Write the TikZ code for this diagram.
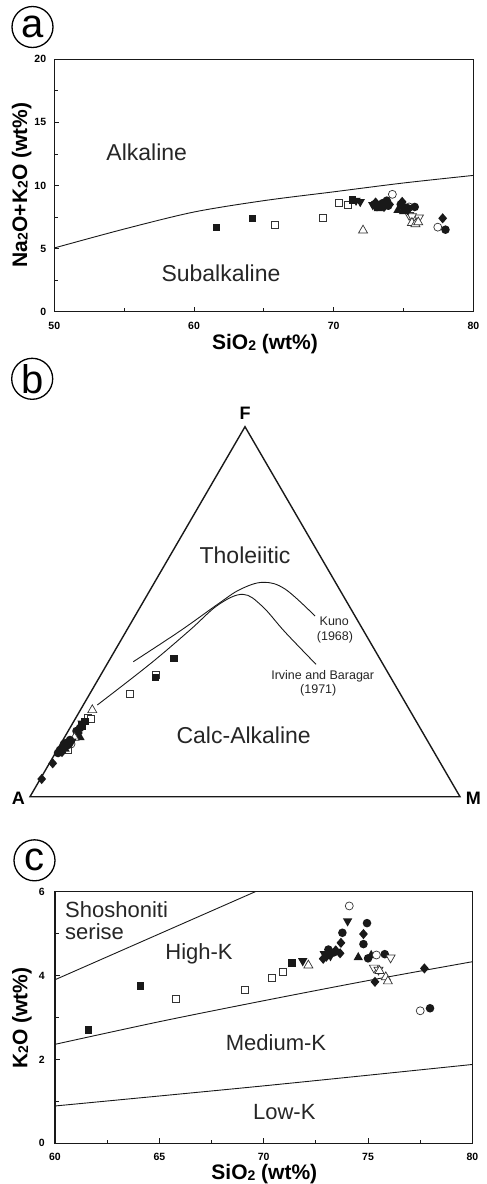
\documentclass[tikz,border=0pt]{standalone}
\usepackage{fontspec}
\setmainfont{Liberation Sans}
\newcommand\fsz[1]{\fontsize{#1}{#1}\selectfont}
\newcommand\mysub[1]{\raisebox{-0.6pt}{\fsz{14}#1}}
\tikzset{
  axis/.style={line width=1.4pt, black!90},
  tk/.style={line width=0.8pt, black!90},
  crv/.style={line width=0.9pt, black!90},
  mk/.style={fill=black!90},
  omk/.style={draw=black!80, fill=white, line width=0.7pt},
  ticklab/.style={font=\bfseries\fsz{10.5}, inner sep=0pt},
  axlab/.style={font=\bfseries\fsz{21}, inner sep=0pt},
  region/.style={font=\fsz{23}, text=black!85, inner sep=0pt, anchor=base},
  regionc/.style={font=\fsz{22}, text=black!85, inner sep=0pt},
  small/.style={font=\fsz{12.5}, text=black!85, inner sep=0pt, anchor=base},
  panel/.style={draw, circle, minimum size=41pt, inner sep=0pt, line width=1.3pt, font=\fsz{40}},
  vlab/.style={font=\bfseries\fsz{18}, inner sep=0pt}
}
\newcommand\mFS[1]{\fill[mk] (#1) ++(-3.7pt,-3.7pt) rectangle ++(7.4pt,7.4pt);}
\newcommand\mOS[1]{\filldraw[omk] (#1) ++(-3.5pt,-3.5pt) rectangle ++(7pt,7pt);}
\newcommand\mFC[1]{\fill[mk] (#1) circle[radius=4.3pt];}
\newcommand\mOC[1]{\filldraw[omk] (#1) circle[radius=4pt];}
\newcommand\mFT[1]{\fill[mk] (#1) ++(0pt,4.7pt) -- ++(-4.7pt,-8.2pt) -- ++(9.4pt,0pt) -- cycle;}
\newcommand\mOT[1]{\filldraw[omk] (#1) ++(0pt,4.5pt) -- ++(-4.5pt,-7.8pt) -- ++(9pt,0pt) -- cycle;}
\newcommand\mFDT[1]{\fill[mk] (#1) ++(0pt,-4.7pt) -- ++(-4.7pt,8.2pt) -- ++(9.4pt,0pt) -- cycle;}
\newcommand\mODT[1]{\filldraw[omk] (#1) ++(0pt,-4.5pt) -- ++(-4.5pt,7.8pt) -- ++(9pt,0pt) -- cycle;}
\newcommand\mFD[1]{\fill[mk] (#1) ++(0pt,5.1pt) -- ++(4.4pt,-5.1pt) -- ++(-4.4pt,-5.1pt) -- ++(-4.4pt,5.1pt) -- cycle;}
\begin{document}
\begin{tikzpicture}[x=1pt,y=-1pt]
\useasboundingbox (0,0) rectangle (487,1184);
\fill[white] (0,0) rectangle (487,1184);

% ================= Panel a =================
\node[panel] (pa) at (32.5,27) {a};
\begin{scope}[shift={(54.3,311.7)}, x=13.97pt, y=12.62pt, shift={(-50,0)}]
  \draw[crv] plot[smooth] coordinates {(50,5.05) (55,6.55) (60,7.9) (65,8.8) (70,9.5) (75,10.2) (80,10.8)};
  \draw[axis] (50,0) rectangle (80,20);
  \foreach \x in {60,70} \draw[tk] (\x,0) -- ++(0pt,5pt);
  \foreach \x in {55,65,75} \draw[tk] (\x,0) -- ++(0pt,3.5pt);
  \foreach \y in {5,10,15} \draw[tk] (50,\y) -- ++(5pt,0pt);
  \foreach \y in {2.5,7.5,12.5,17.5} \draw[tk] (50,\y) -- ++(3.5pt,0pt);
  \foreach \y in {0,5,10,15,20} \node[ticklab, anchor=east] (ya\y) at ([xshift=-8pt]50,\y) {\y};
  \foreach \x in {50,60,70,80} \node[ticklab] (xa\x) at ([yshift=-14.3pt]\x,0) {\x};
  % data
  \mOS{65.8,6.9} \mOS{69.2,7.4} \mOS{70.4,8.6} \mOS{71.0,8.5}
  \mFS{61.6,6.65} \mFS{64.2,7.4} \mFS{71.35,8.85}
  \mFDT{71.9,8.65} \mFDT{71.6,8.75}
  \mOT{72.1,6.5}
  \mOC{74.2,9.3}
  \mFC{72.9,8.5} \mFC{73.1,8.3} \mFC{73.5,8.6} \mFC{73.8,8.8} \mFC{73.3,8.4} \mFC{73.9,8.4}
  \mFD{73.0,8.65} \mFD{73.6,8.3} \mFDT{72.8,8.4} \mFT{73.2,8.25} \mFD{74.0,8.5}
  \mODT{75.4,7.6} \mODT{76.1,7.4} \mODT{75.6,7.5}
  \mOT{75.6,7.1} \mOT{75.85,7.0} \mOT{76.05,7.15}
  \mOC{75.4,8.3}
  \mFC{74.8,8.5} \mFC{75.0,8.3} \mFC{75.8,8.3} \mFC{75.3,8.2}
  \mFD{74.9,8.7} \mFD{75.3,8.05} \mFT{74.6,8.1} \mFT{75.0,8.0}
  \mOC{77.45,6.7} \mFD{77.8,7.4} \mFC{78.0,6.5}
\end{scope}
\node[region] (alk) at (146.7,160.7) {Alkaline};
\node[region] (sub) at (221,281) {Subalkaline};
\node[axlab, rotate=90] (ylabA) at (21.7,185) {Na\mysub{2}O+K\mysub{2}O (wt\%)};
\node[axlab] (xlabA) at (265,344) {SiO\mysub{2} (wt\%)};

% ================= Panel b =================
\node[panel] (pb) at (32.2,378.8) {b};
\coordinate (A) at (30,796.7);
\coordinate (F) at (245,426.7);
\coordinate (M) at (460,796.7);
\draw[axis, line join=miter] (A) -- (F) -- (M) -- cycle;
\node[vlab] (lF) at (245,413.3) {F};
\node[vlab] (lA) at (18.3,798.3) {A};
\node[vlab] (lM) at (473.3,798.3) {M};
\draw[crv] plot[smooth, tension=0.6] coordinates {(133.3,661.7) (180,631) (218,604) (240,589.5) (263,582.3) (285,589) (315,616)};
\draw[crv] plot[smooth, tension=0.6] coordinates {(97.3,705) (150,664) (190,630) (218,605) (242.7,594.3) (262,606) (285,632) (316,664.3)};
\node[small] (kuno) at (334.3,625.3) {Kuno};
\node[small] (kunoy) at (335,640) {(1968)};
\node[small] (irv) at (322.7,679) {Irvine and Baragar};
\node[small] (irvy) at (318.3,693.3) {(1971)};
\node[region] (thol) at (245,563.3) {Tholeiitic};
\node[region] (calc) at (243.7,743.3) {Calc-Alkaline};
% data b
\mFS{174,658.7}
\mOS{155.5,675} \mFS{155.5,677.5}
\mOS{130,693.7}
\mOT{92.3,709.3}
\mOS{88.3,718.3} \mOS{90.7,719.3}
\mFS{85,721.7} \mFDT{82,724}
\mFC{80,728} \mFD{78.3,733} \mFT{80,736.7} \mFC{76.5,731} \mFS{82,726}
\mOT{74.5,737}
\mOC{71,744} \mOS{68,750}
\mFC{70,740} \mFC{66,743} \mFD{63,746} \mFC{60,750} \mFC{58,753} \mFD{62,752} \mFC{68,745} \mFT{65,748} \mFDT{72,742} \mFC{64,744}
\mFD{52.7,763.3} \mFD{41.7,779}

% ================= Panel c =================
\node[panel] (pc) at (34.5,860.3) {c};
\begin{scope}[shift={(55,1143.3)}, x=20.87pt, y=41.94pt, shift={(-60,0)}]
  \draw[crv] (60,3.9) -- (69.6,6);
  \draw[crv] plot[smooth] coordinates {(60,2.36) (65,2.9) (70,3.4) (75,3.88) (80,4.33)};
  \draw[crv] plot[smooth] coordinates {(60,0.89) (70,1.37) (80,1.88)};
  \draw[axis] (60,0) rectangle (80,6);
  \foreach \x in {65,70,75} \draw[tk] (\x,0) -- ++(0pt,5pt);
  \foreach \x in {62.5,67.5,72.5,77.5} \draw[tk] (\x,0) -- ++(0pt,3.5pt);
  \foreach \y in {2,4} \draw[tk] (60,\y) -- ++(5pt,0pt);
  \foreach \y in {1,3,5} \draw[tk] (60,\y) -- ++(3.5pt,0pt);
  \foreach \y in {0,2,4,6} \node[ticklab, anchor=east] (yc\y) at ([xshift=-10pt]60,\y) {\y};
  \foreach \x in {60,65,70,75,80} \node[ticklab] (xc\x) at ([yshift=-13.4pt]\x,0) {\x};
  % data
  \mOS{65.8,3.45} \mOS{69.1,3.65} \mOS{70.4,3.95} \mOS{70.9,4.10}
  \mFS{61.6,2.70} \mFS{64.1,3.75} \mFS{71.35,4.30}
  \mFDT{71.87,4.33} \mOT{72.14,4.26}
  \mOC{74.1,5.66}
  \mFDT{74.02,5.28}
  \mFC{74.95,5.25} \mFC{73.77,5.02} \mFD{74.78,4.99} \mFC{74.78,4.75}
  \mFD{73.7,4.78}
  \mFDT{72.9,4.50} \mFDT{73.2,4.45}
  \mFC{73.1,4.62} \mFC{73.35,4.55}
  \mFD{73.66,4.53} \mFD{73.0,4.45} \mFD{73.45,4.6} \mFD{72.85,4.4}
  \mFT{74.53,4.45} \mFT{75.15,4.5}
  \mOC{75.4,4.49}
  \mFC{75.0,4.41} \mFC{75.8,4.51}
  \mODT{76.08,4.41} \mODT{75.28,4.17} \mODT{75.5,4.12}
  \mOT{75.55,4.13} \mOT{75.85,3.98} \mOT{75.95,3.88}
  \mFD{75.33,3.85} \mFD{77.7,4.17}
  \mOC{77.5,3.16} \mFC{77.97,3.22}
\end{scope}
\node[regionc, anchor=base west] (sho) at (65,917.3) {Shoshoniti};
\node[regionc, anchor=base west] (ser) at (65,939.3) {serise};
\node[regionc, anchor=base] (hk) at (199,959) {High-K};
\node[regionc, anchor=base] (mk) at (276,1050) {Medium-K};
\node[regionc, anchor=base] (lk) at (284.3,1119) {Low-K};
\node[axlab, rotate=90] (ylabC) at (22,1018) {K\mysub{2}O (wt\%)};
\node[axlab] (xlabC) at (264.3,1174.3) {SiO\mysub{2} (wt\%)};
\end{tikzpicture}
\end{document}
